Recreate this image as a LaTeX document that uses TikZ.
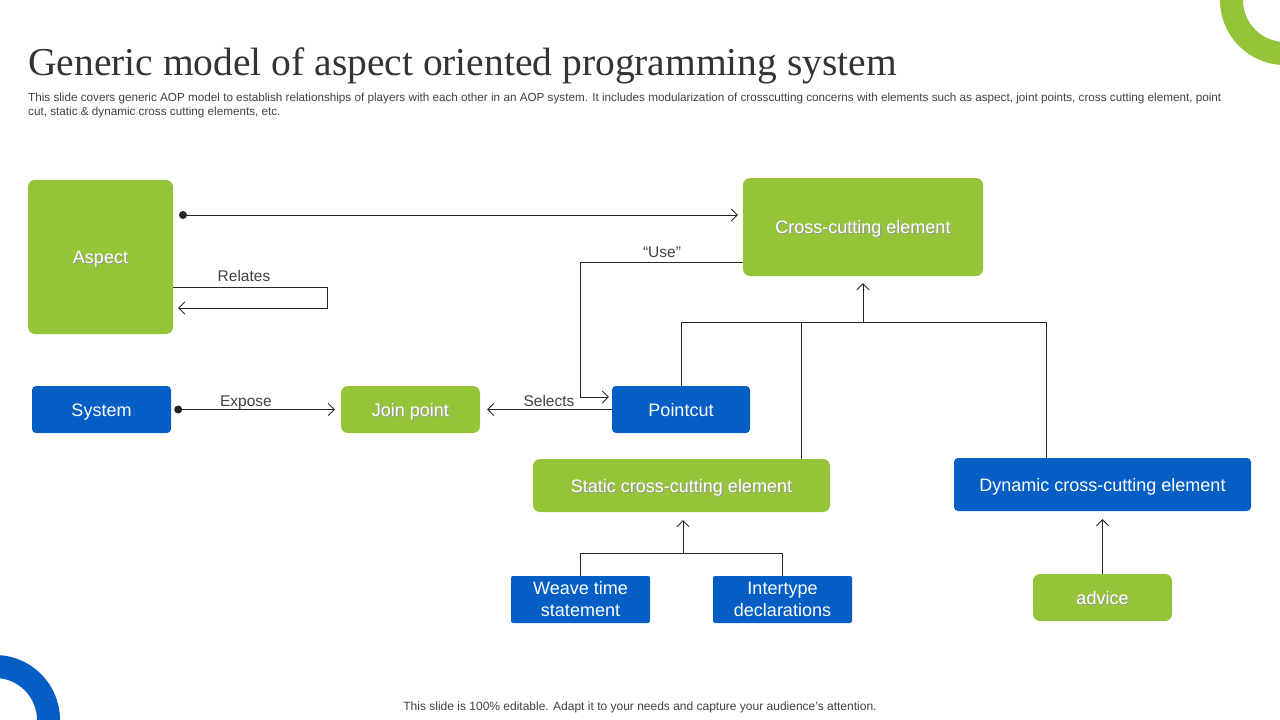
\documentclass[tikz,border=0pt]{standalone}
\usepackage{fontspec}
\setmainfont{Liberation Sans}
\newfontfamily\titlefont{Liberation Serif}
\usepackage{tikz}
\usetikzlibrary{arrows.meta}

\definecolor{aopgreen}{RGB}{150,196,56}
\definecolor{aopblue}{RGB}{4,94,196}
\definecolor{linegray}{RGB}{38,38,38}
\definecolor{textgray}{RGB}{64,64,64}

% white text with a soft drop shadow (green boxes)
\newcommand{\shtxt}[1]{\makebox[0pt][l]{\hspace{1.2pt}\raisebox{-1.2pt}{\color{black!40}#1}}#1}

\begin{document}
\begin{tikzpicture}[x=1pt,y=-1pt]

	\tikzset{box/.style={text=white, inner sep=0pt, align=center, font=\fontsize{18}{22}\selectfont},
		green box/.style={box, fill=aopgreen, rounded corners=7pt, text height=13pt, text depth=0pt},
		blue box/.style={box, fill=aopblue, rounded corners=4pt, text height=13pt, text depth=0pt},
		blue pair/.style={box, fill=aopblue, rounded corners=2pt},
		link/.style={draw=linegray, line width=0.9pt},
		tip/.style={-{Straight Barb[length=6pt,width=12pt]}},
		lbl/.style={text=textgray, inner sep=0pt, text height=11pt, text depth=0pt, font=\fontsize{15.5}{18}\selectfont}}

	\useasboundingbox (0,0) rectangle (1280,720);
	\clip (0,0) rectangle (1280,720);

	% corner rings
	\fill[aopgreen, even odd rule] (1285,0) circle (65pt) circle (42pt);
	\fill[aopblue, even odd rule] (-5,720) circle (65pt) circle (42pt);

	% heading
	\node[anchor=base west, inner sep=0pt, text=black!80, font=\titlefont\fontsize{39.5}{44}\selectfont] (title) at (28,75)
		{Generic model of aspect oriented programming system};
	\node[anchor=north west, align=left, inner sep=0pt, text=textgray, font=\fontsize{11.7}{14}\selectfont] (sub) at (28,93)
		{This slide covers generic AOP model to establish relationships of players with each other in an AOP  system. It includes modularization of crosscutting concerns with elements such as aspect, joint points, cross cutting element, point\\cut,  static \& dynamic cross cutting elements, etc.};

	% boxes
	\node[green box, minimum width=145pt, minimum height=154pt] (asp) at (100.5,257) {\shtxt{Aspect}};
	\node[green box, minimum width=240pt, minimum height=98pt] (cce) at (863,227) {\shtxt{Cross-cutting element}};
	\node[blue box, minimum width=139pt, minimum height=47pt] (sys) at (101.5,409.5) {System};
	\node[green box, minimum width=139pt, minimum height=47pt] (jp) at (410.5,409.5) {\shtxt{Join point}};
	\node[blue box, minimum width=138pt, minimum height=47pt] (pc) at (681,409.5) {Pointcut};
	\node[green box, minimum width=297pt, minimum height=53pt] (scce) at (681.5,485.5) {\shtxt{Static cross-cutting element}};
	\node[blue box, minimum width=297pt, minimum height=53pt] (dce) at (1102.5,484.5) {Dynamic cross-cutting element};
	\node[blue pair, minimum width=139pt, minimum height=47pt] (wts) at (580.5,599.5) {Weave time\\statement};
	\node[blue pair, minimum width=139pt, minimum height=47pt] (itd) at (782.5,599.5) {Intertype\\declarations};
	\node[green box, minimum width=139pt, minimum height=47pt] (adv) at (1102.5,597.5) {\shtxt{advice}};

	% labels
	\node[lbl] (relates) at (244,276) {Relates};
	\node[lbl] (use) at (662,252) {“Use”};
	\node[lbl] (expose) at (246,401) {Expose};
	\node[lbl] (selects) at (549,401) {Selects};

	% aspect -> cross-cutting element
	\coordinate (d1) at (183,215);
	\fill[linegray] (d1) circle (4pt);
	\draw[link, tip, shorten >=5pt] (d1) -- (d1 -| cce.west);

	% relates loop
	\coordinate (rel) at (327,287);
	\draw[link, tip, shorten >=5pt] (asp.east |- rel) -- (rel) -- ++(0,21) -- (asp.east |- 0,308);

	% "use" path
	\coordinate (u1) at (580,262);
	\draw[link, tip, shorten >=3pt] (cce.west |- u1) -- (u1) -- (580,397) -- (pc.west |- 0,397);

	% expose and selects
	\coordinate (d2) at ([xshift=7pt]sys.east);
	\fill[linegray] (d2) circle (4pt);
	\draw[link, tip, shorten >=6pt] (d2) -- (jp.west);
	\draw[link, tip, shorten >=7pt] (pc.west) -- (jp.east);

	% elements feeding cross-cutting element
	\coordinate (bar) at (863,322);
	\draw[link] (pc.north) -- (pc.north |- bar) -- (1046,322) -- (dce.north -| 1046,0);
	\draw[link] (801,322) -- (scce.north -| 801,0);
	\draw[link, tip, shorten >=7pt] (bar) -- (cce.south -| bar);

	% static cross-cutting tree
	\coordinate (sbar) at (683,553);
	\draw[link] (wts.north) -- (wts.north |- sbar) -- (itd.north |- sbar) -- (itd.north);
	\draw[link, tip, shorten >=8pt] (sbar) -- (scce.south -| sbar);

	% advice
	\draw[link, tip, shorten >=8pt] (adv.north) -- (dce.south);

	% footer
	\node[inner sep=0pt, text=textgray, font=\fontsize{12}{14}\selectfont] (foot) at (640,707)
		{This slide is 100\% editable. Adapt it to your needs and capture your audience's attention.};

\end{tikzpicture}
\end{document}
